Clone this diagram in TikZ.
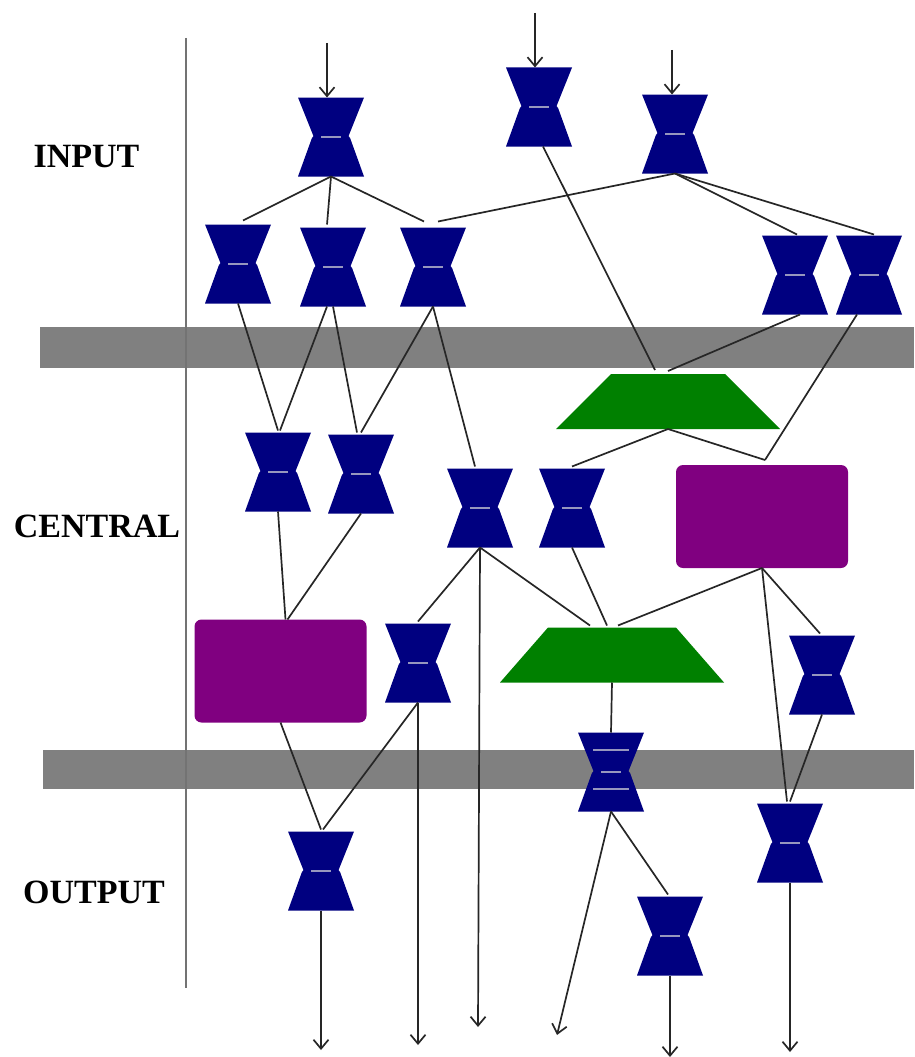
\documentclass[tikz,border=0pt]{standalone}
\usepackage{fontspec}
\setmainfont{Liberation Serif}
\usetikzlibrary{arrows.meta}
\definecolor{hgblue}{HTML}{000080}
\definecolor{hgdash}{RGB}{150,150,190}
\definecolor{trgreen}{HTML}{008000}
\definecolor{pviolet}{HTML}{800080}
\definecolor{bargray}{HTML}{808080}
\begin{document}
\begin{tikzpicture}[x=1pt,y=-1pt,
  hg/.style={minimum width=66pt, minimum height=79pt, inner sep=0pt, outer sep=0pt,
    path picture={
      \begin{scope}[shift={(path picture bounding box.center)}]
        \fill[hgblue] (-33pt,39.5pt) -- (33pt,39.5pt) -- (17.5pt,0.8pt) -- (19pt,-0.8pt) -- (33pt,-39.5pt) -- (-33pt,-39.5pt) -- (-19pt,-0.8pt) -- (-17.5pt,0.8pt) -- cycle;
        \draw[hgdash, line width=1.8pt] (-10pt,0pt) -- (10pt,0pt);
      \end{scope}}},
  hgt/.style={minimum width=66pt, minimum height=79pt, inner sep=0pt, outer sep=0pt,
    path picture={
      \begin{scope}[shift={(path picture bounding box.center)}]
        \fill[hgblue] (-33pt,39.5pt) -- (33pt,39.5pt) -- (17.5pt,0.8pt) -- (19pt,-0.8pt) -- (33pt,-39.5pt) -- (-33pt,-39.5pt) -- (-19pt,-0.8pt) -- (-17.5pt,0.8pt) -- cycle;
        \draw[hgdash, line width=1.8pt] (-10pt,0pt) -- (10pt,0pt);
        \draw[hgdash, line width=1.8pt] (-18pt,22pt) -- (18pt,22pt);
        \draw[hgdash, line width=1.8pt] (-18pt,-17pt) -- (18pt,-17pt);
      \end{scope}}},
  trap/.style={minimum width=224pt, minimum height=55pt, inner sep=0pt, outer sep=0pt,
    path picture={
      \fill[trgreen] (path picture bounding box.south west) -- (path picture bounding box.south east)
        -- ([xshift=-\trapinset]path picture bounding box.north east) -- ([xshift=\trapinset]path picture bounding box.north west) -- cycle;}},
  pbox/.style={fill=pviolet, rounded corners=7pt, minimum width=172pt, minimum height=103pt, inner sep=0pt, outer sep=0pt},
  bar/.style={fill=bargray},
  lbl/.style={font=\fontsize{34}{36}\selectfont\bfseries, anchor=base, inner sep=0pt},
  conn/.style={draw=black!85, line width=1.7pt},
  arr/.style={conn, -{Straight Barb[length=9pt,width=15pt]}}
]
\def\trapinset{55pt}
\useasboundingbox (0,0) rectangle (914,1057);
% bars and separator
\fill[bar] (40,327) rectangle (914,368);
\fill[bar] (43,750) rectangle (914,789);
\coordinate (vt) at (186,38);
\coordinate (vb) at (186,988);
\draw[bargray!90!black, line width=1.8pt] (vt) -- (vb);
% labels
\node[lbl] (tin) at (86.5,167) {INPUT};
\node[lbl] (tcen) at (97,537) {CENTRAL};
\node[lbl] (tout) at (94,903) {OUTPUT};
% shapes
\node[hg] (h1) at (331,137) {};
\node[hg] (h2) at (539,107) {};
\node[hg] (h3) at (675,134) {};
\node[hg] (h4) at (238,264) {};
\node[hg] (h5) at (333,267) {};
\node[hg] (h6) at (433,267) {};
\node[hg] (h7) at (795,275) {};
\node[hg] (h8) at (869,275) {};
\node[hg] (h9) at (278,472) {};
\node[hg] (h10) at (361,474) {};
\node[hg] (h11) at (480,508) {};
\node[hg] (h12) at (572,508) {};
\node[hg] (h13) at (418,663) {};
\node[hg] (h14) at (822,675) {};
\node[hgt] (h15) at (611,772) {};
\node[hg] (h16) at (321,871) {};
\node[hg] (h17) at (790,843) {};
\node[hg] (h18) at (670,936) {};
\node[trap] (g1) at (668,401.5) {};
{\def\trapinset{48pt}
\node[trap] (g2) at (612,655) {};}
\node[pbox] (p1) at (762,516.5) {};
\node[pbox] (p2) at (280.5,671) {};
% input arrows
\coordinate (i1) at (327,43);
\coordinate (i2) at (535,13);
\coordinate (i3) at (672,50);
\draw[arr] (i1) -- ([xshift=-4pt]h1.north);
\draw[arr] (i2) -- ([xshift=-4pt]h2.north);
\draw[arr] (i3) -- ([xshift=-3pt]h3.north);
% connectors
\draw[conn] (h1.south) -- ([shift={(5,-4)}]h4.north);
\draw[conn] (h1.south) -- ([shift={(-6,-3)}]h5.north);
\draw[conn] (h1.south) -- ([shift={(-9,-6)}]h6.north);
\draw[conn] (h3.south) -- ([shift={(5,-6)}]h6.north);
\draw[conn] (h3.south) -- ([shift={(2,-1)}]h7.north);
\draw[conn] (h3.south) -- ([shift={(5,-1)}]h8.north);
\draw[conn] ([xshift=4pt]h2.south) -- ([shift={(-13,-4)}]g1.north);
\draw[conn] ([xshift=5pt]h7.south) -- ([shift={(0,-3)}]g1.north);
\draw[conn] ([xshift=-12pt]h8.south) -- ([shift={(3,-5)}]p1.north);
\draw[conn] (g1.south) -- ([shift={(3,-5)}]p1.north);
\draw[conn] (g1.south) -- ([shift={(0,-2)}]h12.north);
\draw[conn] (h4.south) -- ([shift={(0,-2)}]h9.north);
\draw[conn] ([xshift=-6pt]h5.south) -- ([shift={(2,-2)}]h9.north);
\draw[conn] (h5.south) -- ([shift={(-4,-2)}]h10.north);
\draw[conn] (h6.south) -- ([shift={(0,-2)}]h10.north);
\draw[conn] (h6.south) -- ([shift={(-5,-2)}]h11.north);
\draw[conn] (h9.south) -- ([xshift=5pt]p2.north);
\draw[conn] (h10.south) -- ([xshift=7pt]p2.north);
\draw[conn] (h11.south) -- ([shift={(0,-2)}]h13.north);
\draw[conn] (h11.south) -- ([shift={(-22,-2)}]g2.north);
\draw[conn] (h12.south) -- ([shift={(-5,-2)}]g2.north);
\draw[conn] (p1.south) -- ([shift={(6,-2)}]g2.north);
\draw[conn] (p1.south) -- ([shift={(-2,-2)}]h14.north);
\draw[conn] (p1.south) -- ([shift={(-3,-2)}]h17.north);
\draw[conn] (g2.south) -- (h15.north);
\draw[conn] (p2.south) -- ([shift={(0,-2)}]h16.north);
\draw[conn] (h13.south) -- ([shift={(2,-2)}]h16.north);
\draw[conn] (h14.south) -- ([shift={(0,-2)}]h17.north);
\draw[conn] (h15.south) -- ([shift={(-2,-2)}]h18.north);
% output arrows
\coordinate (o1) at (321,1050);
\coordinate (o2) at (418,1045);
\coordinate (o3) at (478,1027);
\coordinate (o4) at (557,1035);
\coordinate (o5) at (670,1057);
\coordinate (o6) at (790,1052);
\draw[arr] (h16.south) -- (o1);
\draw[arr] (h13.south) -- (o2);
\draw[arr] (h11.south) -- (o3);
\draw[arr] (h15.south) -- (o4);
\draw[arr] (h18.south) -- (o5);
\draw[arr] (h17.south) -- (o6);
\end{tikzpicture}
\end{document}
